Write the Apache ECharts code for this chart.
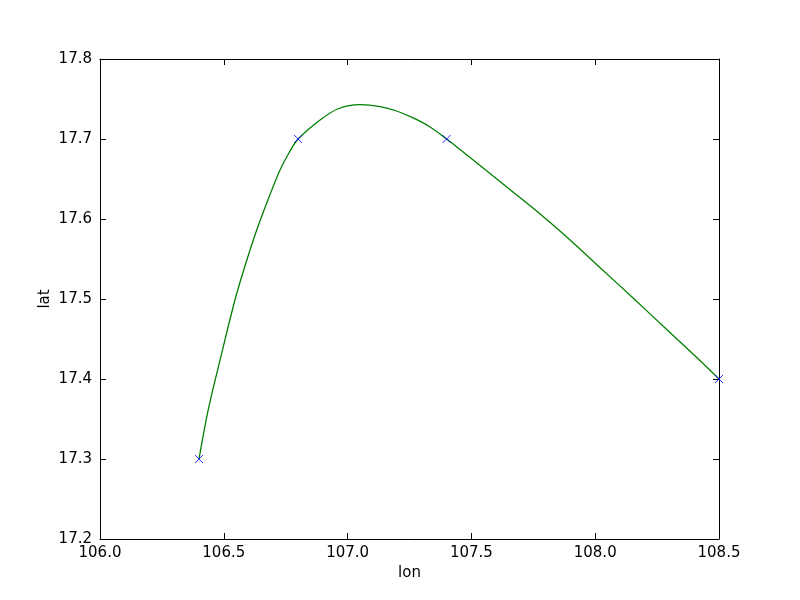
<!DOCTYPE html>
<html><head><meta charset="utf-8">
<script src="https://cdn.jsdelivr.net/npm/echarts@6/dist/echarts.min.js"></script>
<style>html,body{margin:0;padding:0;background:#fff}#c{width:800px;height:600px}</style>
</head><body><div id="c"></div>
<script>
// Observed points (markers)
const pointLon = [106.4, 106.8, 107.4, 108.5];
const pointLat = [17.3, 17.7, 17.7, 17.4];
// Smooth curve
const curveLon = [106.4, 106.437, 106.485, 106.545, 106.588, 106.633, 106.679, 106.727, 106.763, 106.8, 106.889, 106.962, 107.05, 107.131, 107.198, 107.265, 107.333, 107.4, 107.454, 107.535, 107.643, 107.75, 107.885, 108.019, 108.154, 108.289, 108.423, 108.5];
const curveLat = [17.3, 17.3613, 17.4238, 17.4988, 17.5438, 17.5863, 17.6244, 17.6613, 17.6825, 17.7, 17.7238, 17.7378, 17.7429, 17.7405, 17.735, 17.7263, 17.715, 17.7, 17.6869, 17.6669, 17.64, 17.6134, 17.5775, 17.5394, 17.5009, 17.4619, 17.4231, 17.4];
const xTicks = [106.0, 106.5, 107.0, 107.5, 108.0, 108.5];
const yTicks = [17.2, 17.3, 17.4, 17.5, 17.6, 17.7, 17.8];

const font = 'DejaVu Sans';
const fs = 15;
function baseAxis(extra) {
  return Object.assign({
    type: 'value',
    axisLine: {show: true, onZero: false, lineStyle: {color: '#000', width: 1}},
    axisTick: {show: true, inside: true, length: 6, lineStyle: {color: '#000'}},
    splitLine: {show: false},
    axisLabel: {show: false}
  }, extra);
}
const chart = echarts.init(document.getElementById('c'));
chart.setOption({
  animation: false,
  backgroundColor: '#fff',
  grid: {left: 100, right: 81, top: 59, bottom: 61},
  xAxis: [
    baseAxis({position: 'bottom', min: xTicks[0], max: xTicks[xTicks.length-1], interval: 0.5,
      name: 'lon', nameLocation: 'middle', nameGap: 26,
      nameTextStyle: {fontFamily: font, fontSize: fs, color: '#000'},
      axisLabel: {show: true, margin: 7, fontFamily: font, fontSize: fs, color: '#000',
        formatter: v => v.toFixed(1)}}),
    baseAxis({position: 'top', min: xTicks[0], max: xTicks[xTicks.length-1], interval: 0.5})
  ],
  yAxis: [
    baseAxis({position: 'left', min: yTicks[0], max: yTicks[yTicks.length-1], interval: 0.1,
      name: 'lat', nameLocation: 'middle', nameGap: 47, nameRotate: 90, nameMoveOverlap: false,
      nameTextStyle: {fontFamily: font, fontSize: fs, color: '#000'},
      axisLabel: {show: true, margin: 8, fontFamily: font, fontSize: fs, color: '#000',
        formatter: v => v.toFixed(1)}}),
    baseAxis({position: 'right', min: yTicks[0], max: yTicks[yTicks.length-1], interval: 0.1})
  ],
  series: [
    {
      type: 'line',
      data: curveLon.map((x, i) => [x, curveLat[i]]),
      smooth: 0.35,
      showSymbol: false,
      lineStyle: {color: '#008000', width: 1.3},
      z: 2
    },
    {
      type: 'scatter',
      data: pointLon.map((x, i) => [x, pointLat[i]]),
      symbol: 'path://M0,0L10,10M10,0L0,10',
      symbolSize: 8,
      itemStyle: {color: 'none', borderColor: '#0000ff', borderWidth: 1},
      z: 3
    }
  ]
});
</script></body></html>
